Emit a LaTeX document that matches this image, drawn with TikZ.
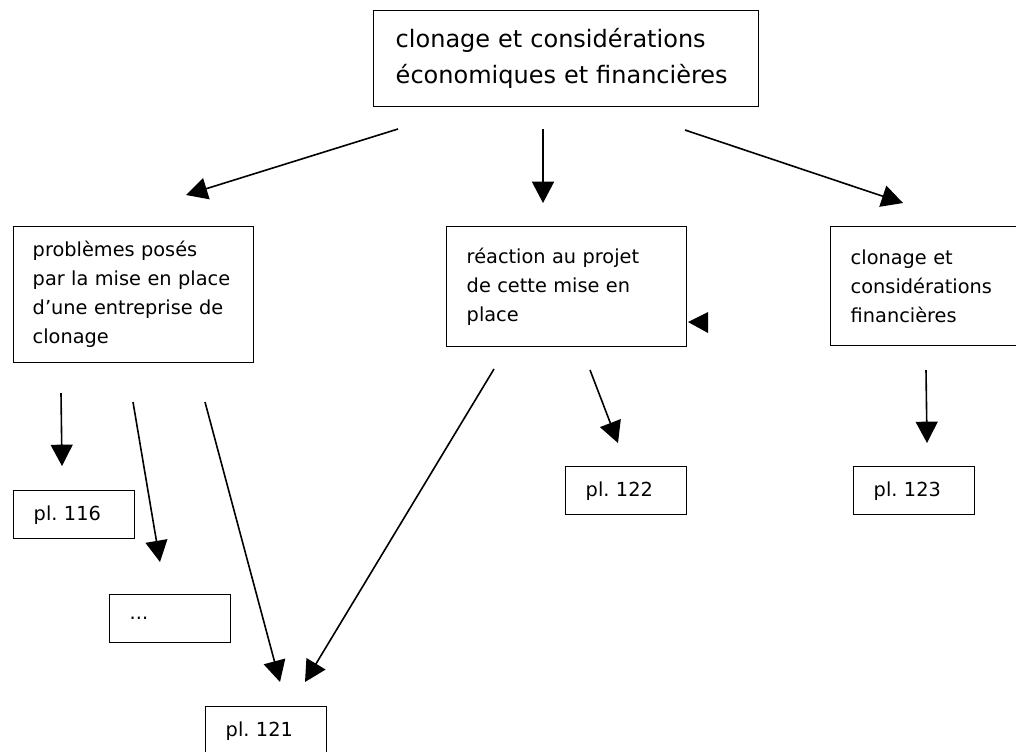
\documentclass[tikz,border=0pt]{standalone}
\usepackage{fontspec}
\setmainfont{DejaVu Sans}
\usetikzlibrary{arrows.meta}
\frenchspacing

\begin{document}
\begin{tikzpicture}[x=0.75pt, y=-0.75pt]
        \tikzstyle{box} = [draw, black, line width=1.1pt, anchor=north west, align=left, inner ysep=0pt,
                           font=\fontsize{14.5pt}{21.75pt}\selectfont]
        \tikzstyle{plbox} = [box, inner xsep=15pt, text width=60.75pt, minimum height=36pt]
        \tikzstyle{blk} = [draw, black, line width=1.2pt, -{Triangle[length=16pt, width=16.5pt]}]

        \useasboundingbox (0, 0) rectangle (1016, 751);
        \clip (0, 0) rectangle (1016, 751);

        % boxes
        \node[box, inner xsep=16.5pt, text width=255.75pt, minimum height=72pt,
              font=\fontsize{18pt}{27pt}\selectfont] (top) at (373, 10)
              {clonage et considérations\\économiques et financières};
        \node[box, inner xsep=14.25pt, text width=151.5pt, minimum height=102pt] (problems) at (13, 226)
              {problèmes posés\\par la mise en place\\d’une entreprise de\\clonage};
        \node[box, inner xsep=15pt, text width=150pt, minimum height=90pt] (reaction) at (446, 226)
              {réaction au projet\\de cette mise en\\place};
        \node[box, inner xsep=15pt, text width=150pt, minimum height=89.25pt] (finance) at (830, 226)
              {clonage et\\considérations\\financières};
        \node[plbox] (pl116) at (13, 490) {pl. 116};
        \node[plbox] (etc) at (109, 594) {...};
        \node[plbox] (pl122) at (565, 466) {pl. 122};
        \node[plbox] (pl123) at (853, 466) {pl. 123};
        \node[plbox] (pl121) at (205, 706) {pl. 121};

        % arrow ends
        \coordinate (top left) at (398, 129);
        \coordinate (top mid) at (543, 129);
        \coordinate (top right) at (685, 130);
        \coordinate (problems in) at (186, 195);
        \coordinate (reaction in) at (543, 203);
        \coordinate (finance in) at (903, 203);
        \coordinate (problems out a) at (61, 393);
        \coordinate (problems out b) at (133, 402);
        \coordinate (problems out c) at (205, 402);
        \coordinate (reaction out a) at (494, 369);
        \coordinate (reaction out b) at (590, 370);
        \coordinate (finance out) at (926, 370);
        \coordinate (pl116 in) at (62, 466);
        \coordinate (etc in) at (160, 562);
        \coordinate (pl121 in a) at (280, 682);
        \coordinate (pl121 in b) at (305, 682);
        \coordinate (pl122 in) at (618, 443);
        \coordinate (pl123 in) at (927, 443);

        \path[blk] (top left) to (problems in);
        \path[blk] (top mid) to (reaction in);
        \path[blk] (top right) to (finance in);
        \path[blk] (problems out a) to (pl116 in);
        \path[blk] (problems out b) to (etc in);
        \path[blk] (problems out c) to (pl121 in a);
        \path[blk] (reaction out a) to (pl121 in b);
        \path[blk] (reaction out b) to (pl122 in);
        \path[blk] (finance out) to (pl123 in);

        % lone tip beside the middle box
        \fill[black] (688, 322) -- (708, 312) -- (708, 333) -- cycle;
    \end{tikzpicture}
\end{document}
